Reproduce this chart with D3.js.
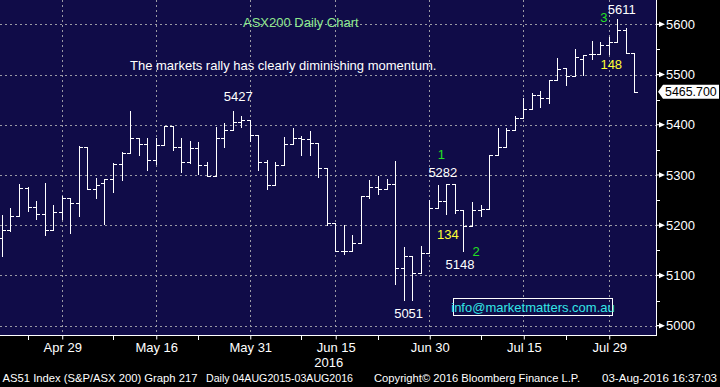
<!DOCTYPE html>
<html>
<head>
<meta charset="utf-8">
<script src="https://cdn.jsdelivr.net/npm/d3@7"></script>
<style>
  body { margin: 0; background: #000; }
  svg { display: block; font-family: "Liberation Sans", Arial, sans-serif; }
</style>
</head>
<body>
<div id="chart"></div>
<script>
// Data (ASX trading days, 19 Apr - 3 Aug 2016)
const dates = [
  "2016-04-19", "2016-04-20", "2016-04-21", "2016-04-22", "2016-04-26", "2016-04-27", "2016-04-28", "2016-04-29",
  "2016-05-02", "2016-05-03", "2016-05-04", "2016-05-05", "2016-05-06", "2016-05-09", "2016-05-10", "2016-05-11",
  "2016-05-12", "2016-05-13", "2016-05-16", "2016-05-17", "2016-05-18", "2016-05-19", "2016-05-20", "2016-05-23",
  "2016-05-24", "2016-05-25", "2016-05-26", "2016-05-27", "2016-05-30", "2016-05-31",
  "2016-06-01", "2016-06-02", "2016-06-03", "2016-06-06", "2016-06-07", "2016-06-08", "2016-06-09", "2016-06-10",
  "2016-06-14", "2016-06-15", "2016-06-16", "2016-06-17", "2016-06-20", "2016-06-21", "2016-06-22", "2016-06-23",
  "2016-06-24", "2016-06-27", "2016-06-28", "2016-06-29", "2016-06-30",
  "2016-07-01", "2016-07-04", "2016-07-05", "2016-07-06", "2016-07-07", "2016-07-08", "2016-07-11", "2016-07-12",
  "2016-07-13", "2016-07-14", "2016-07-15", "2016-07-18", "2016-07-19", "2016-07-20", "2016-07-21", "2016-07-22",
  "2016-07-25", "2016-07-26", "2016-07-27", "2016-07-28", "2016-07-29",
  "2016-08-01", "2016-08-02", "2016-08-03"
];
const opens = [
  5175, 5190, 5218, 5274, 5237, 5222, 5190, 5226, 5254, 5244, 5355, 5272, 5284, 5293, 5321, 5344,
  5373, 5362, 5329, 5359, 5397, 5356, 5326, 5353, 5319, 5298, 5373, 5389, 5406, 5409,
  5380, 5326, 5280, 5319, 5362, 5373, 5371, 5364, 5313, 5204, 5149, 5149, 5164, 5258, 5276, 5272,
  5282, 5114, 5138, 5104, 5144, 5234, 5248, 5282, 5230, 5198, 5230, 5232, 5340, 5355, 5390, 5413,
  5431, 5459, 5453, 5490, 5514, 5498, 5530, 5540, 5540, 5559, 5564, 5588, 5542
];
const highs = [
  5220, 5234, 5282, 5276, 5248, 5284, 5240, 5258, 5254, 5357, 5355, 5295, 5293, 5323, 5345, 5427,
  5373, 5373, 5373, 5397, 5397, 5373, 5368, 5366, 5325, 5396, 5404, 5427, 5417, 5409,
  5380, 5329, 5326, 5376, 5393, 5378, 5388, 5364, 5313, 5204, 5200, 5180, 5258, 5291, 5299, 5293,
  5327, 5156, 5138, 5158, 5250, 5281, 5282, 5282, 5230, 5247, 5240, 5340, 5393, 5393, 5417, 5454,
  5463, 5467, 5490, 5532, 5514, 5550, 5538, 5566, 5564, 5574, 5611, 5592, 5542
];
const lows = [
  5139, 5189, 5218, 5229, 5213, 5181, 5190, 5213, 5185, 5219, 5272, 5254, 5202, 5267, 5290, 5343,
  5340, 5310, 5322, 5359, 5350, 5305, 5324, 5301, 5298, 5298, 5356, 5389, 5395, 5368,
  5309, 5273, 5280, 5319, 5362, 5339, 5339, 5297, 5200, 5149, 5143, 5149, 5164, 5255, 5262, 5272,
  5084, 5051, 5052, 5104, 5144, 5234, 5222, 5224, 5148, 5198, 5219, 5232, 5340, 5355, 5390, 5413,
  5431, 5436, 5443, 5490, 5480, 5498, 5500, 5531, 5540, 5540, 5564, 5542, 5465.7
];
const closes = [
  5190, 5218, 5274, 5237, 5222, 5190, 5226, 5254, 5244, 5355, 5272, 5280, 5293, 5321, 5344, 5373,
  5362, 5329, 5359, 5397, 5356, 5326, 5353, 5319, 5298, 5373, 5389, 5406, 5409, 5380,
  5326, 5280, 5319, 5362, 5373, 5371, 5364, 5313, 5204, 5149, 5149, 5164, 5258, 5276, 5272, 5282,
  5114, 5138, 5104, 5144, 5234, 5248, 5282, 5230, 5198, 5230, 5232, 5340, 5355, 5390, 5413, 5431,
  5459, 5453, 5490, 5512, 5498, 5534, 5538, 5540, 5559, 5564, 5588, 5542, 5465.7
];

// Tick labels
const majorTicks = ["2016-04-29", "2016-05-16", "2016-05-31", "2016-06-15", "2016-06-30", "2016-07-15", "2016-07-29"];
const minorTicks = ["2016-04-22", "2016-05-09", "2016-05-23", "2016-06-08", "2016-06-22", "2016-07-08", "2016-07-22"];
const priceTicks = [5000, 5100, 5200, 5300, 5400, 5500, 5600];
const priceMinorTicks = [5050, 5150, 5250, 5350, 5450, 5550];
const lastPrice = 5465.7;

function draw() {
  const bars = dates.map((d, i) => ({
    date: d,
    open: opens[i],
    high: highs[i],
    low: lows[i],
    close: closes[i],
  }));

  // Dimensions
  let dimensions = {
    width: 720,
    height: 387,
    plotWidth: 656,
    plotHeight: 336,
  };

  const svg = d3
    .select("#chart")
    .append("svg")
    .attr("width", dimensions.width)
    .attr("height", dimensions.height);

  svg.append("rect")
    .attr("width", dimensions.width)
    .attr("height", dimensions.height)
    .attr("fill", "#000");

  svg.append("rect")
    .attr("width", dimensions.plotWidth)
    .attr("height", dimensions.plotHeight)
    .attr("fill", "#100c48");

  // Scales
  const xScale = d3.scalePoint().domain(dates).range([1.9, 634.4]);
  const yScale = d3.scaleLinear().domain([5000, 5600]).range([325.7, 24.3]);

  const px = (v) => Math.round(v) + 0.5;
  const parseDate = d3.timeParse("%Y-%m-%d");
  const tickFormat = d3.timeFormat("%b %d");

  // Grid
  const grid = svg.append("g")
    .attr("stroke", "#9a9aa4")
    .attr("stroke-width", 1)
    .attr("stroke-dasharray", "2,3")
    .attr("shape-rendering", "crispEdges");

  grid.selectAll("line.h")
    .data(priceTicks)
    .join("line")
    .attr("class", "h")
    .attr("x1", 0)
    .attr("x2", dimensions.plotWidth)
    .attr("y1", (d) => px(yScale(d)))
    .attr("y2", (d) => px(yScale(d)));

  grid.selectAll("line.v")
    .data(majorTicks)
    .join("line")
    .attr("class", "v")
    .attr("x1", (d) => px(xScale(d)))
    .attr("x2", (d) => px(xScale(d)))
    .attr("y1", 0)
    .attr("y2", dimensions.plotHeight);

  // OHLC bars
  const barG = svg.append("g")
    .attr("stroke", "#fff")
    .attr("stroke-width", 1.2)
    .attr("shape-rendering", "crispEdges")
    .selectAll("g")
    .data(bars)
    .join("g");

  barG.append("line")
    .attr("x1", (d) => px(xScale(d.date)))
    .attr("x2", (d) => px(xScale(d.date)))
    .attr("y1", (d) => Math.round(yScale(d.high)))
    .attr("y2", (d) => Math.round(yScale(d.low)) + 1);

  barG.append("line")
    .attr("x1", (d) => px(xScale(d.date)) - 3.5)
    .attr("x2", (d) => px(xScale(d.date)))
    .attr("y1", (d) => px(yScale(d.open)))
    .attr("y2", (d) => px(yScale(d.open)));

  barG.append("line")
    .attr("x1", (d) => px(xScale(d.date)))
    .attr("x2", (d) => px(xScale(d.date)) + 3.5)
    .attr("y1", (d) => px(yScale(d.close)))
    .attr("y2", (d) => px(yScale(d.close)));

  // Axis frame
  svg.append("line")
    .attr("x1", 0).attr("x2", dimensions.plotWidth + 0.5)
    .attr("y1", dimensions.plotHeight - 0.5).attr("y2", dimensions.plotHeight - 0.5)
    .attr("stroke", "#fff");
  svg.append("line")
    .attr("x1", dimensions.plotWidth + 0.5).attr("x2", dimensions.plotWidth + 0.5)
    .attr("y1", 0).attr("y2", dimensions.plotHeight)
    .attr("stroke", "#fff");

  // X axis
  const xAxis = d3.axisBottom(xScale)
    .tickValues(majorTicks)
    .tickSize(4)
    .tickPadding(3)
    .tickFormat((d) => tickFormat(parseDate(d)));

  const xAxisG = svg.append("g")
    .attr("transform", `translate(0.5, ${dimensions.plotHeight - 0.5})`)
    .call(xAxis);
  xAxisG.select(".domain").remove();
  xAxisG.selectAll("line").attr("stroke", "#fff");
  xAxisG.selectAll("text")
    .attr("fill", "#fff")
    .attr("font-size", 13)
    .attr("font-family", "Liberation Sans, Arial, sans-serif");

  svg.append("g")
    .selectAll("line")
    .data(minorTicks)
    .join("line")
    .attr("x1", (d) => px(xScale(d)))
    .attr("x2", (d) => px(xScale(d)))
    .attr("y1", dimensions.plotHeight)
    .attr("y2", dimensions.plotHeight + 4)
    .attr("stroke", "#fff");

  svg.append("text")
    .attr("x", xScale("2016-06-15") - 21)
    .attr("y", 366.5)
    .attr("fill", "#fff")
    .attr("font-size", 13)
    .text("2016");

  // Y axis (right)
  const yAxis = d3.axisRight(yScale)
    .tickValues(priceTicks)
    .tickSize(0)
    .tickPadding(10)
    .tickFormat(d3.format("d"));

  const yAxisG = svg.append("g")
    .attr("transform", `translate(${dimensions.plotWidth}, 0)`)
    .call(yAxis);
  yAxisG.select(".domain").remove();
  yAxisG.selectAll("text")
    .attr("fill", "#fff")
    .attr("font-size", 13)
    .attr("font-family", "Liberation Sans, Arial, sans-serif");

  svg.append("g")
    .selectAll("path")
    .data(priceTicks)
    .join("path")
    .attr("d", (d) => {
      const y = yScale(d);
      return `M${dimensions.plotWidth},${y - 0.6}H${dimensions.plotWidth + 3}L${dimensions.plotWidth + 3},${y - 2.8}L${dimensions.plotWidth + 9},${y}L${dimensions.plotWidth + 3},${y + 2.8}L${dimensions.plotWidth + 3},${y + 0.6}H${dimensions.plotWidth}Z`;
    })
    .attr("fill", "#fff");

  svg.append("g")
    .selectAll("line")
    .data(priceMinorTicks)
    .join("line")
    .attr("x1", dimensions.plotWidth)
    .attr("x2", dimensions.plotWidth + 4)
    .attr("y1", (d) => px(yScale(d)))
    .attr("y2", (d) => px(yScale(d)))
    .attr("stroke", "#fff");

  // Last price box
  const ly = yScale(lastPrice);
  svg.append("path")
    .attr("d", `M${dimensions.plotWidth + 2},${ly}L${dimensions.plotWidth + 7},${ly - 7}H719V${ly + 7}H${dimensions.plotWidth + 7}Z`)
    .attr("fill", "#fff");
  svg.append("text")
    .attr("x", 665)
    .attr("y", ly + 4.5)
    .attr("fill", "#000")
    .attr("font-size", 12.4)
    .text(d3.format(".3f")(lastPrice));

  // Annotations
  const note = (text, x, y, color, anchor = "middle", size = 13) =>
    svg.append("text")
      .attr("x", x)
      .attr("y", y)
      .attr("fill", color)
      .attr("font-size", size)
      .attr("text-anchor", anchor)
      .text(text);

  note("ASX200 Daily Chart", 243, 27, "#8ee88e", "start");
  note("The markets rally has clearly diminishing momentum.", 130, 70, "#fff", "start");
  note("5427", xScale(dates[27]) + 5.5, yScale(5427) - 10, "#fff");
  note("1", xScale(dates[52]) - 5, 159, "#22e022");
  note("5282", xScale(dates[52]) - 3.5, yScale(5282) - 7.5, "#fff");
  note("134", xScale(dates[53]) - 7, 239.3, "#ffff33");
  note("2", xScale(dates[55]) + 4, 256, "#22e022");
  note("5148", xScale(dates[54]) - 3.5, yScale(5148) + 17.5, "#fff");
  note("5051", xScale(dates[47]) + 5, yScale(5051) + 18, "#fff");
  note("3", xScale(dates[71]) - 5, 21.7, "#22e022");
  note("5611", xScale(dates[72]) + 4.5, yScale(5611) - 5, "#fff");
  note("148", xScale(dates[71]) + 2.5, 69.3, "#ffff33");

  svg.append("rect")
    .attr("x", 453.5)
    .attr("y", 298.5)
    .attr("width", 159)
    .attr("height", 17)
    .attr("fill", "none")
    .attr("stroke", "#fff");
  note("info@marketmatters.com.au", 533, 312, "#33e6e6");

  // Footer
  const footer = [
    ["AS51 Index (S&P/ASX 200) Graph 217", 2.5, 195],
    ["Daily 04AUG2015-03AUG2016", 206, 147],
    ["Copyright\u00a9 2016 Bloomberg Finance L.P.", 374, 206],
    ["03-Aug-2016 16:37:03", 602, 115],
  ];
  svg.append("g")
    .selectAll("text")
    .data(footer)
    .join("text")
    .attr("x", (d) => d[1])
    .attr("y", 381.5)
    .attr("fill", "#fff")
    .attr("font-size", 11.5)
    .attr("textLength", (d) => d[2])
    .attr("lengthAdjust", "spacingAndGlyphs")
    .text((d) => d[0]);
}

draw();
</script>
</body>
</html>
